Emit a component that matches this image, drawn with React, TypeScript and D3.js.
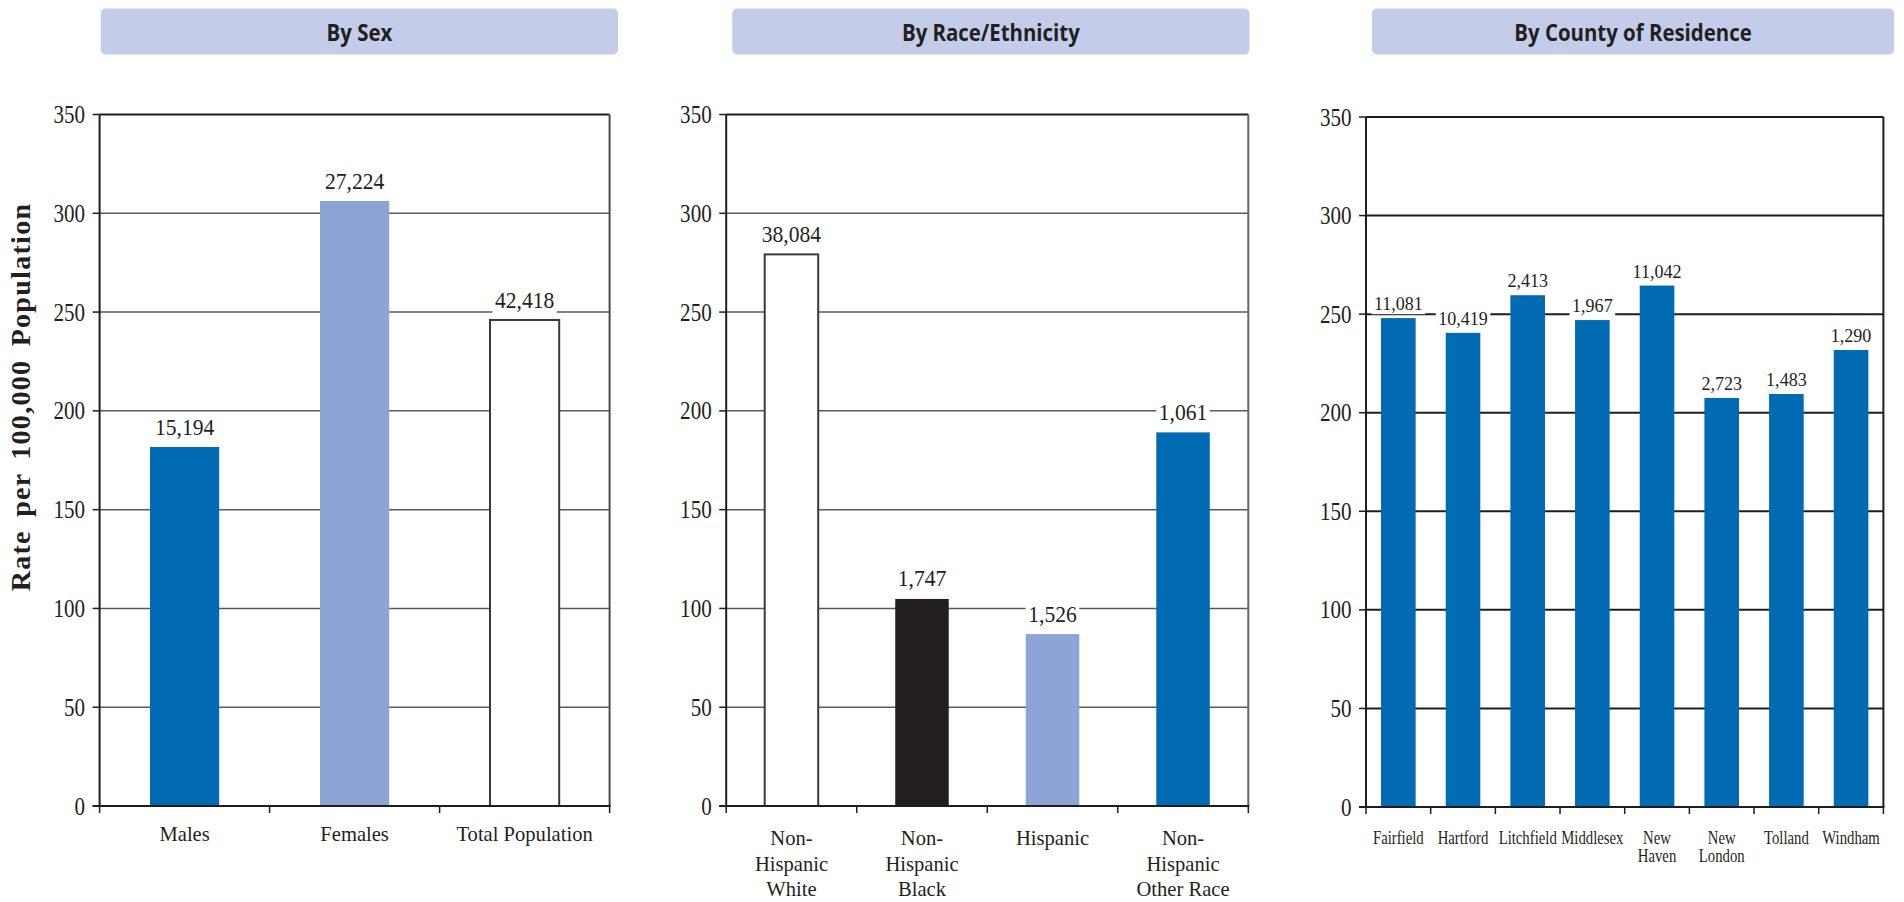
import React, { useEffect, useRef } from "react";
import * as d3 from "d3";

// ---------- data ----------
const yTicks = [0, 50, 100, 150, 200, 250, 300, 350];

const sexCategories = [["Males"], ["Females"], ["Total Population"]];
const sexRates = [181.7, 306.2, 246.0];
const sexCounts = ["15,194", "27,224", "42,418"];

const raceCategories = [
  ["Non-", "Hispanic", "White"],
  ["Non-", "Hispanic", "Black"],
  ["Hispanic"],
  ["Non-", "Hispanic", "Other Race"],
];
const raceRates = [279.2, 104.8, 87.0, 189.1];
const raceCounts = ["38,084", "1,747", "1,526", "1,061"];

const countyCategories = [
  ["Fairfield"],
  ["Hartford"],
  ["Litchfield"],
  ["Middlesex"],
  ["New", "Haven"],
  ["New", "London"],
  ["Tolland"],
  ["Windham"],
];
const countyRates = [248.0, 240.5, 259.6, 247.0, 264.5, 207.5, 209.5, 231.8];
const countyCounts = ["11,081", "10,419", "2,413", "1,967", "11,042", "2,723", "1,483", "1,290"];

const panelTitles = ["By Sex", "By Race/Ethnicity", "By County of Residence"];
const yAxisTitle = "Rate per 100,000 Population";

// ---------- styles ----------
const DARK_BLUE = "#006bb3";
const BLACK = "#231f20";
const sexColors = ["#006bb3", "#8ca5d6", "#ffffff"];
const raceColors = ["#ffffff", "#231f20", "#8ca5d6", "#006bb3"];
const countyColors = countyRates.map(() => DARK_BLUE);

const SERIF = "'Liberation Serif', 'Times New Roman', serif";
const SANS = "'Open Sans', 'Liberation Sans', sans-serif";

interface PanelCfg {
  title: string;
  banner: [number, number];
  left: number;
  right: number;
  top: number;
  bottom: number;
  cats: string[][];
  rates: number[];
  counts: string[];
  colors: string[];
  barFrac: number;
  labelGap: number;
  valueFont: number;
  valueScale: number;
  catFont: number;
  catScale: number;
  catBaseline: number;
  catLineH: number;
  gridColor: string;
  gridW: number;
  rightColor: string;
}

const panels: PanelCfg[] = [
  {
    title: panelTitles[0],
    banner: [100.8, 618],
    left: 99.6, right: 609.6, top: 114.5, bottom: 806,
    cats: sexCategories, rates: sexRates, counts: sexCounts, colors: sexColors,
    barFrac: 0.407, labelGap: 12, valueFont: 23.5, valueScale: 0.92,
    catFont: 21, catScale: 0.98, catBaseline: 841, catLineH: 25.5,
    gridColor: "#5a5a5a", gridW: 1.5, rightColor: "#4a4a4a",
  },
  {
    title: panelTitles[1],
    banner: [732.2, 1249.5],
    left: 726.2, right: 1248.3, top: 114.5, bottom: 806,
    cats: raceCategories, rates: raceRates, counts: raceCounts, colors: raceColors,
    barFrac: 0.41, labelGap: 12.5, valueFont: 23.5, valueScale: 0.92,
    catFont: 21, catScale: 0.98, catBaseline: 845, catLineH: 25.5,
    gridColor: "#5a5a5a", gridW: 1.5, rightColor: "#666",
  },
  {
    title: panelTitles[2],
    banner: [1372, 1894],
    left: 1366, right: 1883.4, top: 117, bottom: 807,
    cats: countyCategories, rates: countyRates, counts: countyCounts, colors: countyColors,
    barFrac: 0.535, labelGap: 8, valueFont: 19, valueScale: 0.95,
    catFont: 18, catScale: 0.82, catBaseline: 844.3, catLineH: 17.4,
    gridColor: "#1e1e1e", gridW: 2, rightColor: "#1e1e1e",
  },
];

function addScaledText(
  parent: d3.Selection<any, any, any, any>,
  x: number,
  y: number,
  str: string,
  opts: { size: number; scale: number; anchor?: string; weight?: string; family?: string; fill?: string }
) {
  const g = parent.append("g").attr("transform", `translate(${x},${y}) scale(${opts.scale},1)`);
  const t = g
    .append("text")
    .attr("x", 0)
    .attr("y", 0)
    .attr("text-anchor", opts.anchor || "middle")
    .attr("font-family", opts.family || SERIF)
    .attr("font-size", opts.size)
    .attr("font-weight", opts.weight || "normal")
    .attr("fill", opts.fill || BLACK)
    .text(str);
  return { g, t };
}

export default function App() {
  const ref = useRef<SVGSVGElement | null>(null);

  useEffect(() => {
    const svg = d3.select(ref.current);
    svg.selectAll("*").remove();
    svg.append("rect").attr("width", 1904).attr("height", 902).attr("fill", "#fff");

    panels.forEach((p) => {
      const root = svg.append("g");

      // banner
      root
        .append("rect")
        .attr("x", p.banner[0])
        .attr("y", 8.5)
        .attr("width", p.banner[1] - p.banner[0])
        .attr("height", 46)
        .attr("rx", 5)
        .attr("fill", "#c3cde9");
      addScaledText(root, (p.banner[0] + p.banner[1]) / 2, 40.5, p.title, {
        size: 24,
        scale: 0.85,
        weight: "bold",
        family: SANS,
        fill: BLACK,
      });

      const y = d3.scaleLinear().domain([0, 350]).range([p.bottom, p.top]);
      const x = d3
        .scaleBand<number>()
        .domain(p.rates.map((_, i) => i))
        .range([p.left, p.right])
        .padding(0);
      const bw = x.bandwidth() * p.barFrac;

      // gridlines
      root
        .selectAll(".grid")
        .data(yTicks.filter((v) => v > 0))
        .join("line")
        .attr("x1", p.left)
        .attr("x2", p.right)
        .attr("y1", (d) => y(d))
        .attr("y2", (d) => y(d))
        .attr("stroke", (d) => (d === 350 ? "#1e1e1e" : p.gridColor))
        .attr("stroke-width", (d) => (d === 350 ? 2 : p.gridW));

      // right border
      root
        .append("line")
        .attr("x1", p.right)
        .attr("x2", p.right)
        .attr("y1", p.top)
        .attr("y2", p.bottom)
        .attr("stroke", p.rightColor)
        .attr("stroke-width", 2);

      // bars
      root
        .selectAll(".bar")
        .data(p.rates)
        .join("rect")
        .attr("x", (_, i) => (x(i) as number) + x.bandwidth() / 2 - bw / 2)
        .attr("y", (d) => y(d))
        .attr("width", bw)
        .attr("height", (d) => p.bottom - y(d))
        .attr("fill", (_, i) => p.colors[i])
        .attr("stroke", (_, i) => (p.colors[i] === "#ffffff" ? "#3a3a3a" : "none"))
        .attr("stroke-width", 2);

      // value labels with white background
      p.rates.forEach((v, i) => {
        const cx = (x(i) as number) + x.bandwidth() / 2;
        const { g, t } = addScaledText(root, cx, y(v) - p.labelGap, p.counts[i], {
          size: p.valueFont,
          scale: p.valueScale,
        });
        const bb = (t.node() as SVGTextElement).getBBox();
        const padX = 2.5 / p.valueScale;
        g.insert("rect", "text")
          .attr("x", bb.x - padX)
          .attr("y", bb.y + 2)
          .attr("width", bb.width + 2 * padX)
          .attr("height", bb.height - 2)
          .attr("fill", "#fff");
      });

      // y axis line and ticks
      root
        .append("line")
        .attr("x1", p.left)
        .attr("x2", p.left)
        .attr("y1", p.top)
        .attr("y2", p.bottom)
        .attr("stroke", "#1e1e1e")
        .attr("stroke-width", 2);
      yTicks.forEach((v) => {
        root
          .append("line")
          .attr("x1", p.left - 7)
          .attr("x2", p.left)
          .attr("y1", y(v))
          .attr("y2", y(v))
          .attr("stroke", "#1e1e1e")
          .attr("stroke-width", 1.5);
        addScaledText(root, p.left - 14.5, y(v) + 8.5, String(v), {
          size: 24.5,
          scale: 0.86,
          anchor: "end",
        });
      });

      // x axis line and ticks
      root
        .append("line")
        .attr("x1", p.left - 7)
        .attr("x2", p.right + 1)
        .attr("y1", p.bottom)
        .attr("y2", p.bottom)
        .attr("stroke", "#1e1e1e")
        .attr("stroke-width", 2);
      const bounds = p.rates.map((_, i) => x(i) as number).concat([p.right]);
      bounds.forEach((bx) => {
        root
          .append("line")
          .attr("x1", bx)
          .attr("x2", bx)
          .attr("y1", p.bottom)
          .attr("y2", p.bottom + 7)
          .attr("stroke", "#1e1e1e")
          .attr("stroke-width", 1.5);
      });

      // category labels
      p.cats.forEach((lines, i) => {
        const cx = (x(i) as number) + x.bandwidth() / 2;
        lines.forEach((ln, j) => {
          addScaledText(root, cx, p.catBaseline + j * p.catLineH, ln, {
            size: p.catFont,
            scale: p.catScale,
          });
        });
      });
    });

    // y-axis title
    svg
      .append("text")
      .attr("transform", `translate(29.5,397) rotate(-90)`)
      .attr("text-anchor", "middle")
      .attr("font-family", SERIF)
      .attr("font-weight", "bold")
      .attr("font-size", 28)
      .attr("letter-spacing", 1.3)
      .attr("word-spacing", 5)
      .attr("fill", BLACK)
      .text(yAxisTitle);
  }, []);

  return (
    <svg
      ref={ref}
      width={1904}
      height={902}
      style={{ position: "absolute", left: 0, top: 0, display: "block" }}
    />
  );
}
